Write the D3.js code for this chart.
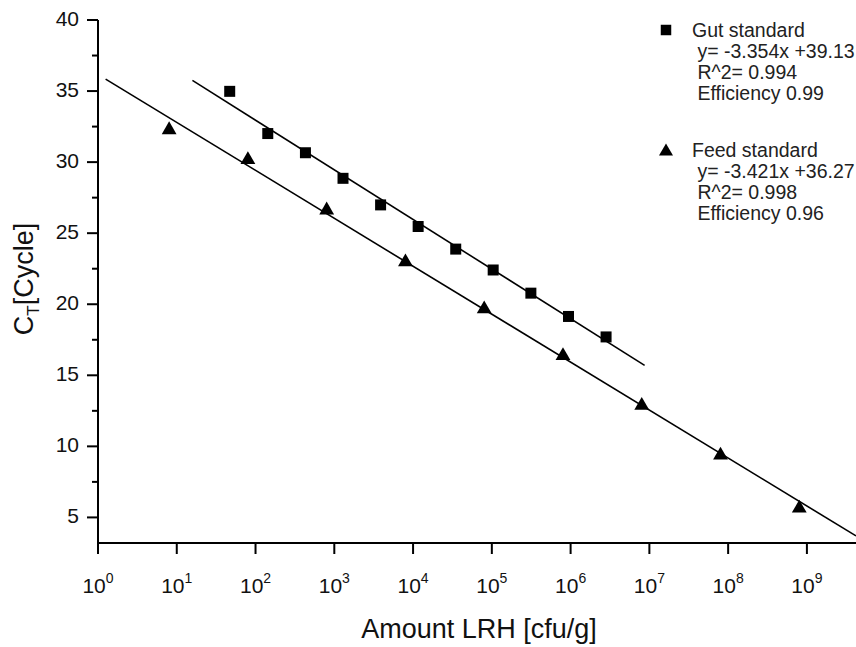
<!DOCTYPE html>
<html lang="en">
<head>
    <meta charset="UTF-8">
    <title>LRH standard curves</title>
    <script src="https://d3js.org/d3.v7.min.js"></script>
    <style>
        body {
            margin: 0;
            background: white;
            font-family: "Liberation Sans", Arial, sans-serif;
        }
        .axis-line {
            stroke: black;
            stroke-width: 2;
        }
        .tick-label {
            font-size: 21px;
            fill: #111;
        }
        .legend-text {
            font-size: 19.5px;
            fill: #222;
        }
        .fit {
            stroke: black;
            stroke-width: 1.6;
            fill: none;
        }
    </style>
</head>
<body>
    <svg id="chart" width="856" height="647"></svg>
    <script>
        // Gut standard (squares) - amount in cfu/g, Ct
        const gutAmount = [47, 143, 430, 1290, 3870, 11600, 34800, 104000, 313000, 940000, 2820000];
        const gutCt = [34.98, 32.01, 30.66, 28.86, 26.99, 25.47, 23.88, 22.41, 20.78, 19.14, 17.70];

        // Feed standard (triangles)
        const feedAmount = [8, 80, 800, 8000, 80000, 800000, 8000000, 80000000, 800000000];
        const feedCt = [32.41, 30.31, 26.76, 23.11, 19.80, 16.52, 13.02, 9.52, 5.78];

        // fitted lines as drawn (end points)
        const gutFitAmount = [15.8, 8.7e6];
        const gutFitCt = [35.75, 15.7];
        const feedFitAmount = [1.25, 4.2e9];
        const feedFitCt = [35.84, 3.7];

        const yTicks = [5, 10, 15, 20, 25, 30, 35, 40];
        const yMinorTicks = [7.5, 12.5, 17.5, 22.5, 27.5, 32.5, 37.5];
        const xExponents = [0, 1, 2, 3, 4, 5, 6, 7, 8, 9];

        const gutLegend = ["Gut standard", " y= -3.354x +39.13", " R^2= 0.994", " Efficiency 0.99"];
        const feedLegend = ["Feed standard", " y= -3.421x +36.27", " R^2= 0.998", " Efficiency 0.96"];

        const svg = d3.select("#chart");

        const x = d3.scaleLog().domain([1, 4.2e9]).range([98, 856]);
        const y = d3.scaleLinear().domain([3.2, 40]).range([543, 20]);

        // axes
        svg.append("line").attr("class", "axis-line")
            .attr("x1", 98).attr("x2", 856).attr("y1", 543).attr("y2", 543);
        svg.append("line").attr("class", "axis-line")
            .attr("x1", 98).attr("x2", 98).attr("y1", 20).attr("y2", 544);

        // y ticks
        svg.selectAll(".ytick").data(yTicks).enter().append("line")
            .attr("class", "axis-line")
            .attr("x1", 87).attr("x2", 98)
            .attr("y1", d => y(d)).attr("y2", d => y(d));
        svg.selectAll(".ytick-minor").data(yMinorTicks).enter().append("line")
            .attr("class", "axis-line")
            .attr("x1", 92).attr("x2", 98)
            .attr("y1", d => y(d)).attr("y2", d => y(d));
        svg.selectAll(".ylabel").data(yTicks).enter().append("text")
            .attr("class", "tick-label")
            .attr("x", 79)
            .attr("y", d => y(d) + 6)
            .attr("text-anchor", "end")
            .text(d => d);

        // x ticks
        svg.selectAll(".xtick").data(xExponents).enter().append("line")
            .attr("class", "axis-line")
            .attr("x1", d => x(Math.pow(10, d))).attr("x2", d => x(Math.pow(10, d)))
            .attr("y1", 543).attr("y2", 554);
        const xl = svg.selectAll(".xlabel").data(xExponents).enter().append("text")
            .attr("class", "tick-label")
            .attr("x", d => x(Math.pow(10, d)))
            .attr("y", 593)
            .attr("text-anchor", "middle");
        xl.append("tspan").text("10");
        xl.append("tspan").attr("dy", -10.5).attr("font-size", 14).text(d => d);

        // axis titles
        svg.append("text")
            .attr("x", 479).attr("y", 638)
            .attr("text-anchor", "middle")
            .attr("font-size", 27)
            .attr("fill", "#111")
            .text("Amount LRH [cfu/g]");

        const yt = svg.append("text")
            .attr("transform", "translate(33,279) rotate(-90)")
            .attr("text-anchor", "middle")
            .attr("font-size", 27)
            .attr("fill", "#111");
        yt.append("tspan").text("C");
        yt.append("tspan").attr("font-size", 17).attr("dy", 6).text("T");
        yt.append("tspan").attr("dy", -6).text("[Cycle]");

        // fit lines
        const line = d3.line().x(d => x(d[0])).y(d => y(d[1]));
        svg.append("path").attr("class", "fit")
            .attr("d", line(d3.zip(gutFitAmount, gutFitCt)));
        svg.append("path").attr("class", "fit")
            .attr("d", line(d3.zip(feedFitAmount, feedFitCt)));

        const square = d3.symbol().type(d3.symbolSquare).size(121);
        const triangle = d3.symbol().type(d3.symbolTriangle).size(95);

        svg.selectAll(".gut").data(d3.zip(gutAmount, gutCt)).enter().append("path")
            .attr("d", square)
            .attr("transform", d => `translate(${x(d[0])},${y(d[1])})`)
            .attr("fill", "black");

        svg.selectAll(".feed").data(d3.zip(feedAmount, feedCt)).enter().append("path")
            .attr("d", triangle)
            .attr("transform", d => `translate(${x(d[0])},${y(d[1]) + 2})`)
            .attr("fill", "black");

        // legend
        function legend(lines, top, symbol, dy) {
            svg.append("path").attr("d", symbol)
                .attr("transform", `translate(666,${top - dy})`)
                .attr("fill", "black");
            svg.selectAll(null).data(lines).enter().append("text")
                .attr("class", "legend-text")
                .attr("x", 692)
                .attr("y", (d, i) => top + i * 21)
                .attr("xml:space", "preserve")
                .style("white-space", "pre")
                .text(d => d);
        }
        legend(gutLegend, 36.5, d3.symbol().type(d3.symbolSquare).size(110), 6.5);
        legend(feedLegend, 156.5, d3.symbol().type(d3.symbolTriangle).size(85), 5);
    </script>
</body>
</html>
